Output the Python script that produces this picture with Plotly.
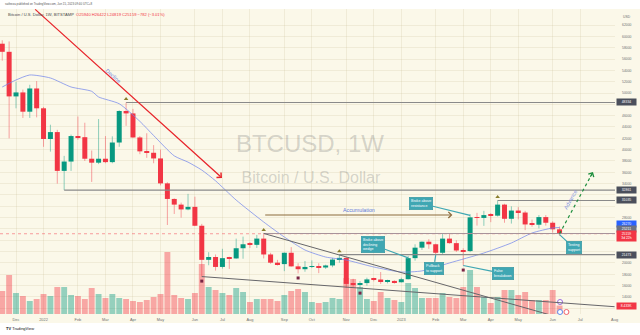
import pandas as pd
import plotly.graph_objects as go

# ---------------- data ----------------
WEEK_START = "2021-11-22"   # weekly candles, Monday based
OPEN = [58700, 57270, 49400, 50100, 46700, 50800, 47300, 41880, 43100, 36250,
        37900, 42400, 42200, 38400, 37700, 38400, 37800, 41260, 46820, 46400,
        42150, 39700, 39450, 38450, 34050, 31300, 30300, 29450, 29900, 26570,
        20550, 21050, 19300, 20850, 20800, 22600, 23300, 23200, 24300, 21500,
        20050, 19800, 21800, 19400, 18900, 19300, 19400, 19200, 19560, 20600,
        20900, 16300, 16280, 16450, 17100, 17080, 16750, 16830, 16600, 17130,
        20850, 22700, 23750, 23300, 21800, 24300, 23500, 22200, 22100, 28050,
        27950, 28450, 28350, 30300, 27800, 29250, 28900, 26800, 26750, 28100,
        27100, 25940]
HIGH = [59300, 59100, 51950, 50600, 51450, 52100, 47550, 44400, 43500, 38900,
        42650, 45850, 44750, 39850, 45400, 42400, 42350, 46950, 48334, 47200,
        42400, 42900, 40800, 40000, 34250, 31400, 30650, 32200, 31700, 26900,
        21900, 21500, 22500, 21100, 24300, 24650, 23700, 24950, 25211, 21800,
        20550, 21850, 22800, 19950, 20350, 20450, 19950, 19700, 20900, 21473,
        21050, 17200, 16800, 17400, 17400, 18400, 17050, 16950, 17400, 21250,
        23300, 23800, 24200, 23400, 25250, 25200, 24000, 22600, 28600, 28850,
        29200, 28800, 31035, 30450, 30000, 29850, 29200, 27650, 28450, 28450,
        27350, 26422]
LOW = [55700, 42000, 47300, 45600, 45600, 45700, 40500, 39650, 34000, 32861,
       36250, 41750, 38000, 34300, 37450, 37600, 37600, 40500, 44200, 42100,
       39200, 38550, 37600, 33700, 26700, 28650, 28000, 29300, 26500, 17600,
       19600, 18650, 19000, 18950, 20750, 20750, 22650, 22650, 20800, 19850,
       19550, 18550, 19350, 18150, 18450, 19100, 18200, 18950, 19250, 20050,
       15600, 15800, 15480, 16000, 16750, 16300, 16400, 16350, 16550, 17100,
       20400, 22300, 22500, 21400, 21550, 23400, 21950, 19550, 21900, 26600,
       26550, 27200, 28200, 27100, 26950, 27700, 25800, 26400, 26100, 26600,
       25350, 24819]
CLOSE = [57270, 49400, 50100, 46700, 50800, 47300, 41880, 43100, 36250, 37900,
         42400, 42200, 38400, 37700, 38400, 37800, 41260, 46820, 46400, 42150,
         39700, 39450, 38450, 34050, 31300, 30300, 29450, 29900, 26570, 20550,
         21050, 19300, 20850, 20800, 22600, 23300, 23200, 24300, 21500, 20050,
         19800, 21800, 19400, 18900, 19300, 19400, 19200, 19560, 20600, 20900,
         16300, 16280, 16450, 17100, 17080, 16750, 16830, 16600, 17130, 20850,
         22700, 23750, 23300, 21800, 24300, 23500, 22200, 22100, 28050, 27950,
         28450, 28350, 30300, 27800, 29250, 28900, 26800, 26750, 28100, 27100,
         25940, 25159]
VOLUME_K = [23, 39, 21, 18, 13, 15, 20, 18, 27, 27,
            19, 18, 15, 26, 20, 16, 20, 16, 15, 13,
            12, 14, 17, 20, 62, 19, 16, 15, 21, 50,
            27, 24, 21, 19, 26, 22, 12, 15, 15, 15,
            13, 19, 23, 25, 22, 12, 11, 12, 16, 15,
            36, 35, 27, 15, 13, 22, 16, 14, 12, 31,
            26, 16, 16, 16, 21, 17, 16, 27, 44, 27,
            17, 11, 17, 24, 24, 19, 22, 14, 14, 14,
            24, 8.433]

MA_DATES = ["2021-11-22", "2021-12-06", "2021-12-20", "2022-01-10", "2022-01-31",
            "2022-02-21", "2022-02-28", "2022-03-21", "2022-04-11", "2022-04-25",
            "2022-05-16", "2022-05-30", "2022-06-13", "2022-06-27", "2022-07-18",
            "2022-08-15", "2022-09-05", "2022-09-26", "2022-10-17", "2022-11-07",
            "2022-12-05", "2023-01-02", "2023-01-23", "2023-02-20", "2023-03-27",
            "2023-04-24", "2023-05-15", "2023-06-05", "2023-06-12"]
MA_VALUES = [51060, 52300, 53180, 52650, 51060, 50300, 49300, 48100, 45000, 42500,
             38900, 37800, 36400, 34500, 31100, 27230, 24580, 22290, 21050, 20520,
             19290, 18400, 18600, 20000, 21760, 23530, 25290, 26180, 26270]

TICK_DATES = ["2021-12-06", "2022-01-03", "2022-02-07", "2022-03-07", "2022-04-04",
              "2022-05-02", "2022-06-06", "2022-07-04", "2022-08-01", "2022-09-05",
              "2022-10-03", "2022-11-07", "2022-12-05", "2023-01-02", "2023-02-06",
              "2023-03-06", "2023-04-03", "2023-05-01", "2023-06-05", "2023-07-03",
              "2023-08-07"]
TICK_TEXT = ["Dec", "2022", "Feb", "Mar", "Apr", "May", "Jun", "Jul", "Aug", "Sep",
             "Oct", "Nov", "Dec", "2023", "Feb", "Mar", "Apr", "May", "Jun", "Jul", "Aug"]
PRICE_TICKS = list(range(12000, 64000, 2000))
HIDDEN_TICKS = [22000, 24000, 26000, 30000, 32000, 48000]

LEVELS = [48334, 32861, 31035, 25211, 21473]
LEVEL_START = ["2022-03-28", "2022-01-24", "2023-04-10", "2022-08-15", "2022-10-31"]
LEVEL_COLORS = ["#8a8a8a", "#8a8a8a", "#8a8a8a", "#a8929a", "#8a8a8a"]

WEDGE_UPPER_X = ["2022-08-15", "2023-06-05"]
WEDGE_UPPER_Y = [25211, 10700]
WEDGE_LOWER_X = ["2022-06-13", "2023-08-07"]
WEDGE_LOWER_Y = [17600, 12280]

PIVOT_HIGH_IDX = [18, 38, 49, 72]
PIVOT_LOW_IDX = [29, 43, 52, 67]

DECLINE_FROM = ("2021-12-24", 65000)
DECLINE_TO = ("2022-07-03 14:00", 35000)
ACCUM_FROM = ("2022-08-15", 28470)
ACCUM_TO = ("2023-02-23", 28470)
ADVANCE_TO = ("2023-07-16", 36050)

CALLOUTS = [
    ("Broke above<br>resistance", 68, 28400, -49, -12),
    ("Broke above<br>declining<br>wedge", 59, 20900, -35, -13),
    ("Pullback<br>to support", 63, 21400, -2, 13),
    ("False<br>breakdown", 67, 19550, 40, 8),
    ("Testing<br>support", 81, 25000, 14, 13),
]

AXIS_LABELS = [
    (48334, "48334", "#4b4f5b", 0),
    (32861, "32861", "#4b4f5b", 0),
    (31035, "31035", "#4b4f5b", 0),
    (26270, "26270", "#2962ff", 3.8),
    (25211, "25211", "#6d7180", 4.6),
    (25159, "25159<br>3d 22h", "#f23645", -2.6),
    (21473, "21473", "#4b4f5b", 0),
]

# ---------------- styling ----------------
CREAM = "#fbf8e9"
GRID = "rgba(200,190,150,0.22)"
RED, GREEN = "#f23645", "#089981"
RED_WICK, GREEN_WICK = "rgba(242,54,69,0.45)", "rgba(8,153,129,0.45)"
RED_VOL, GREEN_VOL = "rgba(242,54,69,0.42)", "rgba(8,153,129,0.42)"
TEAL_BOX = "#3fa7b3"
DAY = 86400000
X_RANGE = ["2021-11-19 17:00", "2023-08-07 10:00"]
Y_RANGE = [10993, 64826]
FONT = "Liberation Sans"

dates = pd.date_range(WEEK_START, periods=len(CLOSE), freq="7D")
is_up = [c >= o for o, c in zip(OPEN, CLOSE)]

fig = go.Figure()

# watermark (on the hidden base axis so it stays behind the candles)
fig.add_trace(go.Scatter(x=["2022-10-01", "2022-10-02"], y=[168, 135], mode="text",
                         text=["BTCUSD, 1W", "Bitcoin / U.S. Dollar"],
                         textfont=dict(size=[24, 16], color="rgba(120,120,120,0.30)", family=FONT),
                         hoverinfo="skip", yaxis="y"))

# volume
fig.add_trace(go.Bar(x=dates, y=VOLUME_K, width=6.0 * DAY,
                     marker=dict(color=[GREEN_VOL if u else RED_VOL for u in is_up], line_width=0),
                     yaxis="y", hoverinfo="skip"))

# wicks
for flag, col in ((True, GREEN_WICK), (False, RED_WICK)):
    xs, ys = [], []
    for d, h, l, u in zip(dates, HIGH, LOW, is_up):
        if u == flag:
            xs += [d, d, None]
            ys += [l, h, None]
    fig.add_trace(go.Scatter(x=xs, y=ys, mode="lines", line=dict(color=col, width=1),
                             yaxis="y2", hoverinfo="skip"))

# bodies
fig.add_trace(go.Bar(x=dates,
                     y=[max(abs(c - o), 160) for o, c in zip(OPEN, CLOSE)],
                     base=[min(o, c) for o, c in zip(OPEN, CLOSE)],
                     width=5.1 * DAY,
                     marker=dict(color=[GREEN if u else RED for u in is_up], line_width=0),
                     yaxis="y2", hoverinfo="skip"))

# moving average
fig.add_trace(go.Scatter(x=MA_DATES, y=MA_VALUES, mode="lines",
                         line=dict(color="rgba(110,130,235,0.7)", width=1, shape="spline", smoothing=0.6),
                         yaxis="y2", hoverinfo="skip"))

# current price line
fig.add_trace(go.Scatter(x=X_RANGE, y=[CLOSE[-1], CLOSE[-1]], mode="lines",
                         line=dict(color="rgba(242,54,69,0.6)", width=0.8, dash="dot"),
                         yaxis="y2", hoverinfo="skip"))

# horizontal levels
for lvl, start, col in zip(LEVELS, LEVEL_START, LEVEL_COLORS):
    fig.add_trace(go.Scatter(x=[start, X_RANGE[1]], y=[lvl, lvl], mode="lines",
                             line=dict(color=col, width=1.1), yaxis="y2", hoverinfo="skip"))

# wedge lines
for wx, wy in ((WEDGE_UPPER_X, WEDGE_UPPER_Y), (WEDGE_LOWER_X, WEDGE_LOWER_Y)):
    fig.add_trace(go.Scatter(x=wx, y=wy, mode="lines", line=dict(color="#66666a", width=1),
                             yaxis="y2", hoverinfo="skip"))

# pivot markers
fig.add_trace(go.Scatter(x=[dates[i] for i in PIVOT_HIGH_IDX], y=[HIGH[i] + 600 for i in PIVOT_HIGH_IDX],
                         mode="markers", marker=dict(symbol="triangle-up", size=4, color="#8a7e2c"),
                         yaxis="y2", hoverinfo="skip"))
fig.add_trace(go.Scatter(x=[dates[i] for i in PIVOT_LOW_IDX], y=[LOW[i] - 800 for i in PIVOT_LOW_IDX],
                         mode="markers", marker=dict(symbol="square", size=3, color="#7a2545"),
                         yaxis="y2", hoverinfo="skip"))

# advance dotted path
fig.add_trace(go.Scatter(x=[dates[-1], ADVANCE_TO[0]], y=[CLOSE[-1], ADVANCE_TO[1]], mode="lines",
                         line=dict(color="#1e8e3e", width=1.2, dash="dot"), yaxis="y2", hoverinfo="skip"))

# event icons
fig.add_trace(go.Scatter(x=["2023-06-12 12:00", "2023-06-12 12:00", "2023-06-19"], y=[12, 2, 2],
                         mode="markers",
                         marker=dict(symbol="circle", size=5, color="white",
                                     line=dict(color=["#9c6ade", "#5b8def", "#f0606a"], width=1)),
                         yaxis="y", hoverinfo="skip", cliponaxis=False))

ann = []
# drawing arrows
ann.append(dict(x=DECLINE_TO[0], y=DECLINE_TO[1], xref="x", yref="y2",
                ax=DECLINE_FROM[0], ay=DECLINE_FROM[1], axref="x", ayref="y2",
                showarrow=True, arrowhead=4, arrowsize=1, arrowwidth=1.3, arrowcolor="#e8262c", text=""))
ann.append(dict(x=ACCUM_TO[0], y=ACCUM_TO[1], xref="x", yref="y2",
                ax=ACCUM_FROM[0], ay=ACCUM_FROM[1], axref="x", ayref="y2",
                showarrow=True, arrowhead=4, arrowsize=1, arrowwidth=1.2, arrowcolor="#8b6b3d", text=""))
ann.append(dict(x=ADVANCE_TO[0], y=ADVANCE_TO[1], xref="x", yref="y2", ax=-3.4, ay=6.2,
                showarrow=True, arrowhead=4, arrowsize=1, arrowwidth=1.2, arrowcolor="#1e8e3e", text=""))
ann.append(dict(x="2022-03-15", y=53000, xref="x", yref="y2", text="Decline", showarrow=False,
                textangle=42, font=dict(size=5.5, color="#7f90e0", family=FONT)))
ann.append(dict(x="2022-11-20", y=29350, xref="x", yref="y2", text="Accumulation", showarrow=False,
                font=dict(size=5.3, color="#5f78d8", family=FONT)))
ann.append(dict(x="2023-06-23", y=31100, xref="x", yref="y2", text="Advance", showarrow=False,
                textangle=-61, font=dict(size=5.5, color="#7f90e0", family=FONT)))

# callouts
for txt, idx, py, ax, ay in CALLOUTS:
    ann.append(dict(x=dates[idx], y=py, xref="x", yref="y2", text=txt, showarrow=True,
                    ax=ax, ay=ay, arrowhead=0, arrowwidth=1.2, arrowcolor=TEAL_BOX,
                    bgcolor=TEAL_BOX, bordercolor="#2e8f9a", borderwidth=0.5, borderpad=1.5,
                    font=dict(size=3.6, color="white", family=FONT), align="left"))

# price axis labels
for val, txt, col, shift in AXIS_LABELS:
    ann.append(dict(x=1.0195, xref="paper", y=val, yref="y2", yshift=shift, text=txt,
                    showarrow=False, xanchor="center", bgcolor=col, borderpad=1, width=17,
                    font=dict(size=3.4, color="white", family=FONT)))
ann.append(dict(x=1.0195, xref="paper", y=VOLUME_K[-1], yref="y", text="8.433K", showarrow=False,
                xanchor="center", bgcolor="#f23645", borderpad=1, width=17,
                font=dict(size=3.4, color="white", family=FONT)))
ann.append(dict(x=1.0195, xref="paper", y=0.987, yref="paper", text="USD", showarrow=False,
                xanchor="center", font=dict(size=3.4, color="#707070", family=FONT)))

# header / title / footer
ann.append(dict(x=0.005, y=1.0148, xref="paper", yref="paper", xanchor="left", yanchor="middle",
                text="saifeeza published on TradingView.com, Jun 15, 2023 09:40 UTC+8", showarrow=False,
                font=dict(size=2.9, color="#555555", family=FONT)))
ann.append(dict(x=0.010, y=1 - 5.0 / 305, xref="paper", yref="paper", xanchor="left", yanchor="middle",
                text="Bitcoin / U.S. Dollar, 1W, BITSTAMP  <span style='color:#f23645'>O25940 H26422 L24819 C25159 −782 (−3.01%)</span>",
                showarrow=False, font=dict(size=4.1, color="#4a4a4a", family=FONT)))
ann.append(dict(x=0.006, y=-0.049, xref="paper", yref="paper", xanchor="left", yanchor="middle",
                text="<b>TV</b> TradingView", showarrow=False, font=dict(size=4, color="#131722", family=FONT)))

shapes = [
    dict(type="rect", xref="paper", yref="paper", x0=-0.01, x1=1.05, y0=1.0, y1=1.04,
         fillcolor="white", line_width=0, layer="below"),
    dict(type="rect", xref="paper", yref="paper", x0=-0.01, x1=1.05, y0=-0.08, y1=-9 / 305,
         fillcolor="white", line_width=0, layer="below"),
]

fig.update_layout(
    width=640, height=335, margin=dict(l=0, r=25, t=9, b=21),
    paper_bgcolor=CREAM, plot_bgcolor=CREAM, showlegend=False, barmode="overlay",
    font=dict(family=FONT),
    annotations=ann, shapes=shapes,
    xaxis=dict(type="date", range=X_RANGE, tickvals=TICK_DATES, ticktext=TICK_TEXT,
               showgrid=True, gridcolor=GRID, gridwidth=1, zeroline=False, showline=False,
               ticks="", tickfont=dict(size=3.9, color="#707070"), automargin=False,
               ticklabelstandoff=2),
    yaxis=dict(range=[0, 305], visible=False, automargin=False, showgrid=False, zeroline=False),
    yaxis2=dict(overlaying="y", side="right", range=Y_RANGE, tickvals=PRICE_TICKS,
                ticktext=["" if v in HIDDEN_TICKS else str(v) for v in PRICE_TICKS],
                showgrid=True, gridcolor=GRID, gridwidth=1, zeroline=False, showline=False,
                ticks="", tickfont=dict(size=3.4, color="#707070"), automargin=False,
                ticklabelstandoff=6),
)

fig.write_html("out.html")
